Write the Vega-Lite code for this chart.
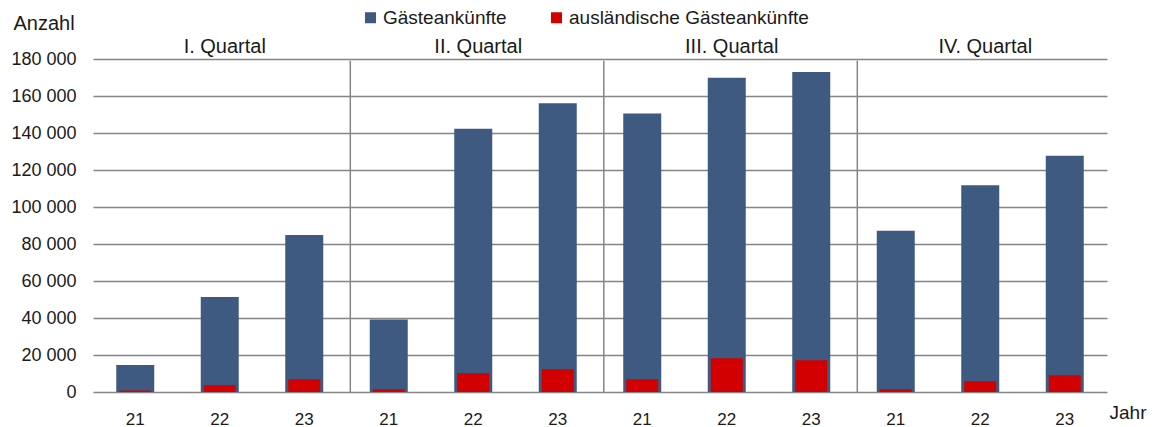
{
  "$schema": "https://vega.github.io/schema/vega-lite/v6.json",
  "width": 1014,
  "height": 333,
  "autosize": "none",
  "padding": {"left": 93, "top": 59, "right": 51, "bottom": 35},
  "config": {
    "font": "Liberation Sans",
    "view": {"stroke": null},
    "text": {"font": "Liberation Sans"}
  },
  "datasets": {
    "bars": [
      {"key": "I-21", "serie": "Gästeankünfte", "wert": 14600},
      {"key": "I-22", "serie": "Gästeankünfte", "wert": 51400},
      {"key": "I-23", "serie": "Gästeankünfte", "wert": 84800},
      {"key": "II-21", "serie": "Gästeankünfte", "wert": 39200},
      {"key": "II-22", "serie": "Gästeankünfte", "wert": 142300},
      {"key": "II-23", "serie": "Gästeankünfte", "wert": 156100},
      {"key": "III-21", "serie": "Gästeankünfte", "wert": 150600},
      {"key": "III-22", "serie": "Gästeankünfte", "wert": 169800},
      {"key": "III-23", "serie": "Gästeankünfte", "wert": 173000},
      {"key": "IV-21", "serie": "Gästeankünfte", "wert": 87100},
      {"key": "IV-22", "serie": "Gästeankünfte", "wert": 111800},
      {"key": "IV-23", "serie": "Gästeankünfte", "wert": 127700},
      {"key": "I-21", "serie": "ausländische Gästeankünfte", "wert": 800},
      {"key": "I-22", "serie": "ausländische Gästeankünfte", "wert": 3700},
      {"key": "I-23", "serie": "ausländische Gästeankünfte", "wert": 6900},
      {"key": "II-21", "serie": "ausländische Gästeankünfte", "wert": 1500},
      {"key": "II-22", "serie": "ausländische Gästeankünfte", "wert": 10300},
      {"key": "II-23", "serie": "ausländische Gästeankünfte", "wert": 12300},
      {"key": "III-21", "serie": "ausländische Gästeankünfte", "wert": 6900},
      {"key": "III-22", "serie": "ausländische Gästeankünfte", "wert": 18200},
      {"key": "III-23", "serie": "ausländische Gästeankünfte", "wert": 17100},
      {"key": "IV-21", "serie": "ausländische Gästeankünfte", "wert": 1500},
      {"key": "IV-22", "serie": "ausländische Gästeankünfte", "wert": 5800},
      {"key": "IV-23", "serie": "ausländische Gästeankünfte", "wert": 9100}
    ],
    "quartale": [
      {"key": "I-22", "quartal": "I. Quartal"},
      {"key": "II-22", "quartal": "II. Quartal"},
      {"key": "III-22", "quartal": "III. Quartal"},
      {"key": "IV-22", "quartal": "IV. Quartal"}
    ],
    "trenner": [
      {"key": "II-21"},
      {"key": "III-21"},
      {"key": "IV-21"}
    ]
  },
  "layer": [
    {
      "data": {"name": "bars"},
      "transform": [{"filter": "datum.serie === 'Gästeankünfte'"}],
      "mark": {"type": "bar", "size": 38},
      "encoding": {
        "x": {
          "field": "key", "type": "nominal", "sort": null,
          "scale": {"paddingInner": 0, "paddingOuter": 0},
          "axis": {
            "labelExpr": "slice(datum.value, -2)",
            "labelAngle": 0,
            "labelFontSize": 17,
            "labelColor": "#1a1a1a",
            "labelPadding": 19,
            "ticks": false,
            "tickSize": 0,
            "domain": false,
            "title": "Jahr",
            "titleFontSize": 19,
            "titleFontWeight": "normal",
            "titleColor": "#1a1a1a",
            "titleAlign": "left",
            "titleBaseline": "alphabetic",
            "titleX": 1016,
            "titleY": 26
          }
        },
        "y": {
          "field": "wert", "type": "quantitative",
          "scale": {"domain": [0, 180000], "nice": false},
          "axis": {
            "values": [0, 20000, 40000, 60000, 80000, 100000, 120000, 140000, 160000, 180000],
            "tickCount": 12,
            "labelOverlap": false,
            "labelExpr": "replace(format(datum.value, ',d'), ',', ' ')",
            "labelFontSize": 18,
            "labelColor": "#1a1a1a",
            "labelPadding": 17,
            "ticks": false,
            "tickSize": 0,
            "domain": false,
            "grid": true,
            "gridColor": "#858585",
            "gridWidth": 1.5,
            "title": "Anzahl",
            "titleAngle": 0,
            "titleFontSize": 20,
            "titleFontWeight": "normal",
            "titleColor": "#1a1a1a",
            "titleAlign": "left",
            "titleBaseline": "alphabetic",
            "titleX": -80,
            "titleY": -30
          }
        },
        "color": {
          "field": "serie", "type": "nominal",
          "scale": {"domain": ["Gästeankünfte", "ausländische Gästeankünfte"], "range": ["#3f5a80", "#d20000"]},
          "legend": {
            "orient": "none",
            "legendX": 268,
            "legendY": -51,
            "direction": "horizontal",
            "columns": 2,
            "columnPadding": 40,
            "title": null,
            "symbolType": "square",
            "symbolSize": 121,
            "symbolStrokeWidth": 0,
            "labelFontSize": 19,
            "labelLimit": 0,
            "labelColor": "#1a1a1a",
            "labelOffset": 3,
            "padding": 0
          }
        }
      }
    },
    {
      "data": {"name": "bars"},
      "transform": [{"filter": "datum.serie === 'ausländische Gästeankünfte'"}],
      "mark": {"type": "bar", "size": 32},
      "encoding": {
        "x": {"field": "key", "type": "nominal", "sort": null},
        "y": {"field": "wert", "type": "quantitative"},
        "color": {"field": "serie", "type": "nominal"}
      }
    },
    {
      "data": {"name": "trenner"},
      "mark": {"type": "rule", "color": "#858585", "strokeWidth": 1.5},
      "encoding": {
        "x": {"field": "key", "type": "nominal", "sort": null, "bandPosition": 0.045},
        "y": {"datum": 0},
        "y2": {"datum": 179000}
      }
    },
    {
      "data": {"name": "quartale"},
      "mark": {"type": "text", "fontSize": 20, "color": "#1a1a1a", "baseline": "alphabetic", "dx": 5},
      "encoding": {
        "x": {"field": "key", "type": "nominal", "sort": null},
        "y": {"datum": 183240},
        "text": {"field": "quartal"}
      }
    }
  ]
}
